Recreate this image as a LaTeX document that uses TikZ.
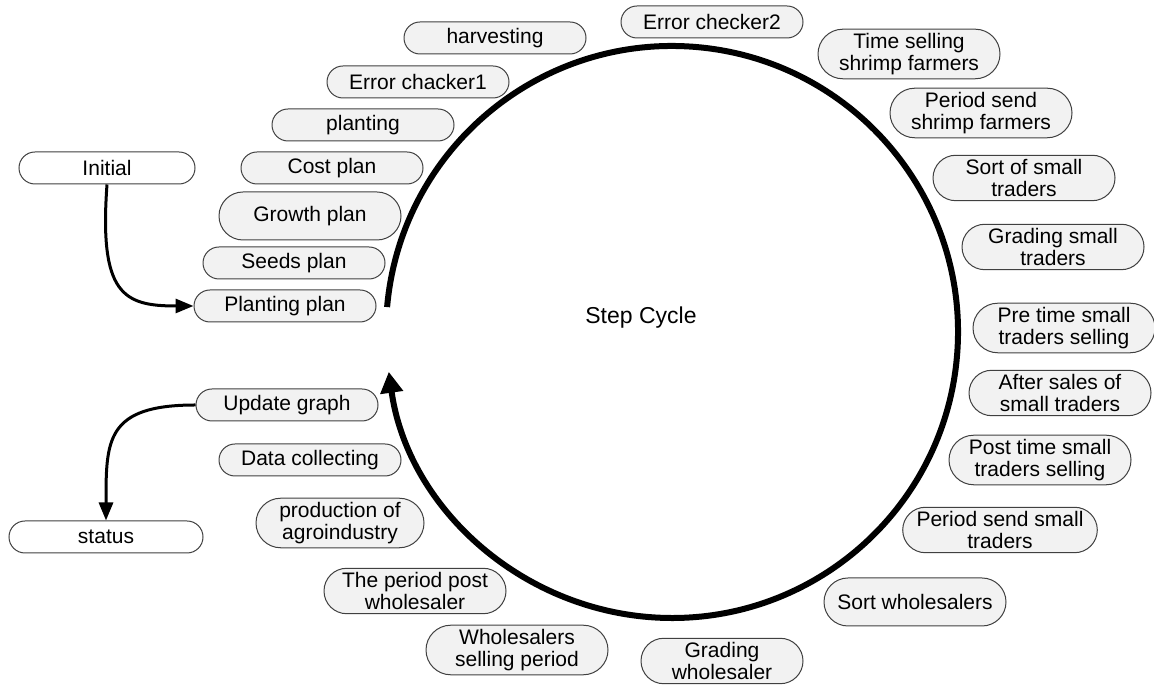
\documentclass[tikz,border=0pt]{standalone}
\usepackage{fontspec}
\setmainfont{Liberation Sans}
\usepackage{xcolor}
\definecolor{stepfill}{HTML}{F2F2F2}
\definecolor{stepline}{HTML}{404040}
\usetikzlibrary{shapes.misc, arrows.meta, calc}

\begin{document}
\begin{tikzpicture}[x=0.5pt, y=0.5pt,
    stepnode/.style={rounded rectangle, draw=stepline, fill=stepfill, line width=0.5pt,
        minimum width=95pt, minimum height=16pt, inner sep=2pt, align=center,
        font=\fontsize{10.5}{11}\selectfont},
    endnode/.style={stepnode, fill=white},
    cycleline/.style={line width=3pt, -{Triangle[length=10.5pt, width=11pt]}},
    link/.style={line width=1.5pt, -{Triangle[length=9pt, width=7pt]}}]
\useasboundingbox (0,0) rectangle (1154,688);
% the cycle
\coordinate (hub) at (672,356);
\draw[cycleline] (hub) ++(175:286) arc[start angle=175, end angle=-172, radius=286];
\node[font=\fontsize{11.5}{12}\selectfont] (cyclelabel) at (641,370) {Step Cycle};
% steps, left side going up
\node[stepnode] (plantplan) at (285,382) {Planting plan};
\node[stepnode] (seedplan) at (294,425) {Seeds plan};
\node[stepnode, minimum height=24pt] (growthplan) at (310,472) {Growth plan};
\node[stepnode] (costplan) at (332,520) {Cost plan};
\node[stepnode] (planting) at (363,563) {planting};
\node[stepnode] (errchk1) at (418,606) {Error chacker1};
\node[stepnode] (harvest) at (495,650) {harvesting};
% steps, top and right side
\node[stepnode] (errchk2) at (712,666) {Error checker2};
\node[stepnode] (timesell) at (909,634) {Time selling\\shrimp farmers};
\node[stepnode] (periodshrimp) at (981,575) {Period send\\shrimp farmers};
\node[stepnode] (sortsmall) at (1024,510) {Sort of small\\traders};
\node[stepnode] (gradesmall) at (1053,441) {Grading small\\traders};
\node[stepnode] (pretime) at (1064,360) {Pre time small\\traders selling};
\node[stepnode] (aftersales) at (1060,295) {After sales of\\small traders};
\node[stepnode] (posttime) at (1040,228) {Post time small\\traders selling};
\node[stepnode] (periodsmall) at (1000,158) {Period send small\\traders};
% steps, bottom and left side going up
\node[stepnode, minimum height=24pt] (sortwhole) at (915,86) {Sort wholesalers};
\node[stepnode, minimum width=85pt] (gradewhole) at (722,27) {Grading\\wholesaler};
\node[stepnode] (wholesell) at (517,38) {Wholesalers\\selling period};
\node[stepnode] (periodpost) at (415,97) {The period post\\wholesaler};
\node[stepnode, minimum width=88pt] (prodagro) at (340,165) {production of\\agroindustry};
\node[stepnode] (datacoll) at (310,228) {Data collecting};
\node[stepnode] (updgraph) at (287,283) {Update graph};
% start and end
\node[endnode, minimum width=92pt] (initial) at (107,520) {Initial};
\node[endnode, minimum width=101pt] (status) at (106,151) {status};
\draw[link] (initial.south) .. controls +(-8,-110) and +(-70,0) .. (plantplan.west);
\draw[link] (updgraph.west) .. controls +(-90,0) and +(0,80) .. (status.north);
\end{tikzpicture}
\end{document}
